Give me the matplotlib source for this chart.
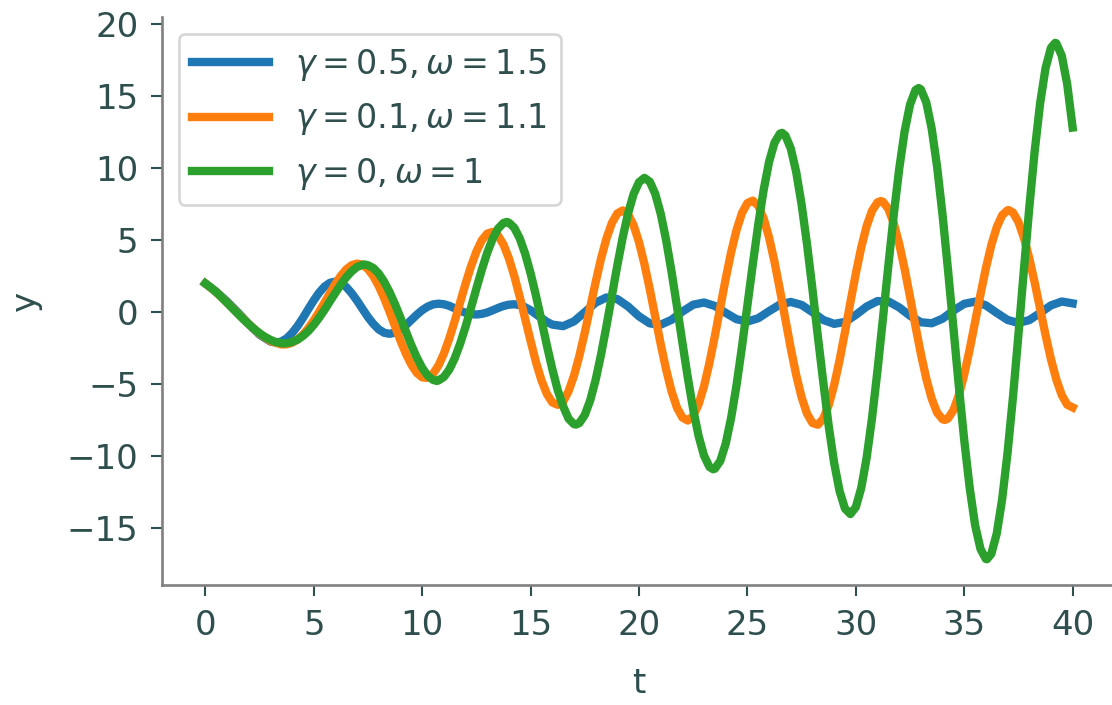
import matplotlib
matplotlib.use("Agg")
import matplotlib.pyplot as plt

# ---- data ----
labels = [r'$\gamma = 0.5, \omega = 1.5$', r'$\gamma = 0.1, \omega = 1.1$', r'$\gamma = 0, \omega = 1$']

t_blue = [0, 0.5, 1.0, 1.5, 2.0, 2.5, 3.0, 3.25, 3.5, 3.75, 4.0, 4.25, 4.5, 4.75, 5.0, 5.25, 5.5,
          5.75, 6.0, 6.25, 6.5, 6.75, 7.0, 7.25, 7.5, 7.75, 8.0, 8.25, 8.5, 8.75, 9.0, 9.25, 9.5,
          9.75, 10.0, 10.25, 10.5, 10.75, 11.0, 11.25, 11.5, 11.75, 12.0, 12.25, 12.5, 12.75,
          13.0, 13.25, 13.5, 13.75, 14.0, 14.25, 14.5, 14.75, 15.0, 15.25, 15.5, 15.75,
          16.0, 16.5, 17.0, 17.5, 18.0, 18.5, 19.0, 19.5, 20.0, 20.5, 21.0, 21.5, 22.0, 22.5, 23.0,
          23.5, 24.0, 24.5, 25.0, 25.5, 26.0, 26.5, 27.0, 27.5, 28.0, 28.5, 29.0, 29.5, 30.0, 30.5,
          31.0, 31.5, 32.0, 32.5, 33.0, 33.5, 34.0, 34.5, 35.0, 35.5, 36.0, 36.5, 37.0, 37.5, 38.0,
          38.5, 39.0, 39.5, 40.0]
y_blue = [2.00, 1.43, 0.75, -0.01, -0.81, -1.55, -2.03, -2.10, -2.03, -1.81, -1.44, -0.96, -0.39,
          0.23, 0.83, 1.37, 1.79, 2.05, 2.13, 2.03, 1.75, 1.32, 0.80, 0.23, -0.33, -0.81, -1.19,
          -1.42, -1.49, -1.41, -1.19, -0.89, -0.53, -0.17, 0.15, 0.39, 0.55, 0.60, 0.56, 0.45,
          0.28, 0.11, -0.03, -0.13, -0.15, -0.11, -0.01, 0.14, 0.30, 0.44, 0.53, 0.56, 0.50,
          0.35, 0.14, -0.13, -0.40, -0.66,
          -0.85, -0.96, -0.63, 0.01, 0.67, 1.03,
          0.92, 0.40, -0.28, -0.77, -0.86, -0.52, 0.05, 0.53, 0.68, 0.44, -0.04, -0.48, -0.64,
          -0.41, 0.08, 0.54, 0.72, 0.51, 0.01, -0.53, -0.80, -0.67, -0.18, 0.40, 0.78, 0.76,
          0.34, -0.24, -0.69, -0.76, -0.44, 0.12, 0.59, 0.74, 0.48, -0.04, -0.53, -0.74, -0.54,
          -0.04, 0.48, 0.75, 0.62]

t_orange = [0, 0.5, 1.0, 1.5, 2.0, 2.5, 3.0, 3.5, 3.75, 4.0, 4.25, 4.5, 4.75, 5.0, 5.25, 5.5,
            5.75, 6.0, 6.25, 6.5, 6.75, 7.0, 7.25, 7.5, 7.75, 8.0, 8.25, 8.5, 8.75, 9.0, 9.25,
            9.5, 9.75, 10.0, 10.2, 10.25, 10.5, 10.75, 11.0, 11.25, 11.5, 11.75, 12.0, 12.25,
            12.5, 12.75,
            13.0, 13.25, 13.5, 13.75, 14.0, 14.25, 14.5, 14.75, 15.0, 15.25, 15.5, 15.75, 16.0,
            16.25, 16.5, 16.75, 17.0, 17.25, 17.5, 17.75, 18.0, 18.25, 18.5, 18.75, 19.0, 19.25,
            19.5, 19.75, 20.0, 20.25, 20.5, 20.75, 21.0, 21.25, 21.5, 21.75, 22.0, 22.25, 22.5,
            22.75, 23.0, 23.25, 23.5, 23.75, 24.0, 24.25, 24.5, 24.75, 25.0, 25.25, 25.5, 25.75,
            26.0, 26.25, 26.5, 26.75, 27.0, 27.25, 27.5, 27.75, 28.0, 28.25, 28.5, 28.75, 29.0,
            29.25, 29.5, 29.75, 30.0, 30.25, 30.5, 30.75, 31.0, 31.15, 31.25, 31.5, 31.75, 32.0,
            32.25, 32.5, 32.75, 33.0, 33.25, 33.5, 33.75, 34.0, 34.1, 34.25, 34.5, 34.75, 35.0,
            35.25, 35.5, 35.75, 36.0, 36.25, 36.5, 36.75, 37.0, 37.05, 37.25, 37.5, 37.75, 38.0,
            38.25, 38.5, 38.75, 39.0, 39.25, 39.5, 39.75, 40.0]
y_orange = [2.00, 1.40, 0.68, -0.08, -0.82, -1.49, -1.99, -2.23, -2.22, -2.11, -1.88, -1.55,
            -1.10, -0.57, 0.04, 0.69, 1.35, 1.98, 2.53, 2.98, 3.27, 3.38, 3.30, 3.00, 2.50, 1.81,
            0.97, 0.02, -0.98, -1.97, -2.87, -3.63, -4.20, -4.51, -4.55, -4.53, -4.26, -3.70,
            -2.87, -1.82, -0.61, 0.69, 1.98, 3.18, 4.21, 5.00,
            5.46, 5.58, 5.32, 4.70, 3.74, 2.51, 1.07, -0.47, -1.98,
            -3.47, -4.71, -5.66, -6.25, -6.42, -6.21, -5.48, -4.41, -3.02, -1.40, 0.35, 2.09,
            3.73, 5.13, 6.20, 6.86, 7.07, 6.79, 6.04, 4.87, 3.35, 1.58, -0.31, -2.20, -3.96,
            -5.47, -6.61, -7.30, -7.51, -7.19, -6.38, -5.13, -3.50, -1.64, 0.36, 2.34, 4.17,
            5.72, 6.89, 7.58, 7.75, 7.39, 6.51, 5.18, 3.50, 1.56, -0.49, -2.50, -4.35, -5.90,
            -7.03, -7.68, -7.80, -7.38, -6.44, -5.06, -3.33, -1.37, 0.69, 2.69, 4.50, 5.99, 7.05,
            7.63, 7.72, 7.67, 7.18, 6.18, 4.76, 3.02, 1.07, -0.95, -2.88, -4.60, -5.99, -6.96,
            -7.42, -7.47, -7.37, -6.80, -5.76, -4.32, -2.59, -0.68, 1.24, 3.07, 4.66, 5.91, 6.74,
            7.08, 7.09, 6.92, 6.27, 5.18, 3.75, 2.06, 0.24, -1.57, -3.25, -4.67, -5.75, -6.41,
            -6.60]

t_green = [0, 0.25, 0.5, 0.75, 1.0, 1.25, 1.5, 1.75, 2.0, 2.25, 2.5, 2.75, 3.0, 3.25, 3.5, 3.62,
           3.75, 4.0, 4.25, 4.5, 4.75, 5.0, 5.25, 5.5, 5.75, 6.0, 6.25, 6.5, 6.75, 7.0, 7.25, 7.33,
           7.5, 7.75, 8.0, 8.25, 8.5, 8.75, 9.0, 9.25, 9.5, 9.75, 10.0, 10.25, 10.5, 10.68, 10.75,
           11.0, 11.25, 11.5, 11.75, 12.0, 12.25, 12.5, 12.75, 13.0, 13.25, 13.5, 13.75, 13.9,
           14.0, 14.25, 14.5, 14.75, 15.0, 15.25, 15.5, 15.75, 16.0, 16.25, 16.5, 16.75, 17.0,
           17.1, 17.25, 17.5, 17.75, 18.0, 18.25, 18.5, 18.75, 19.0, 19.25, 19.5, 19.75, 20.0,
           20.25, 20.5, 20.75, 21.0, 21.25, 21.5, 21.75, 22.0, 22.25, 22.5, 22.75, 23.0, 23.25,
           23.42, 23.5, 23.75, 24.0, 24.25, 24.5, 24.75, 25.0, 25.25, 25.5, 25.75, 26.0, 26.25,
           26.5, 26.6, 26.75, 27.0, 27.25, 27.5, 27.75, 28.0, 28.25, 28.5, 28.75, 29.0, 29.25,
           29.5, 29.75, 30.0, 30.25, 30.5, 30.75, 31.0, 31.25, 31.5, 31.75, 32.0, 32.25, 32.5,
           32.75, 32.9, 33.0, 33.25, 33.5, 33.75, 34.0, 34.25, 34.5, 34.75, 35.0, 35.25, 35.5,
           35.75, 36.0, 36.05, 36.25, 36.5, 36.75, 37.0, 37.25, 37.5, 37.75, 38.0, 38.25, 38.5,
           38.75, 39.0, 39.2, 39.25, 39.5, 39.75, 40.0]
y_green = [2.00, 1.72, 1.40, 1.04, 0.66, 0.28, -0.11, -0.48, -0.83, -1.16, -1.45, -1.71, -1.91,
           -2.06, -2.14, -2.16, -2.14, -2.06, -1.90, -1.64, -1.30, -0.87, -0.37, 0.18, 0.78, 1.36,
           1.93, 2.44, 2.85, 3.15, 3.30, 3.32, 3.27, 3.07, 2.68, 2.11, 1.39, 0.55, -0.38, -1.34,
           -2.28, -3.13, -3.85, -4.39, -4.69, -4.76, -4.73, -4.49, -3.97, -3.19, -2.18, -1.00,
           0.31, 1.65, 2.95, 4.13, 5.10, 5.81, 6.20, 6.27, 6.22, 5.86, 5.13, 4.06, 2.71, 1.14,
           -0.55, -2.29, -3.93, -5.39, -6.52, -7.38, -7.76, -7.79, -7.68, -7.12, -6.11, -4.69,
           -2.93, -0.95, 1.16, 3.25, 5.20, 6.89, 8.20, 9.03, 9.33, 9.06, 8.22, 6.85, 5.02, 2.83,
           0.42, -2.09, -4.52, -6.74, -8.59, -9.95, -10.73, -10.89, -10.85, -10.31, -9.11, -7.32,
           -5.04, -2.39, 0.46, 3.35, 6.09, 8.50, 10.45, 11.77, 12.40, 12.45, 12.27, 11.37, 9.74,
           7.48, 4.72, 1.60, -1.68, -4.85, -7.90, -10.45, -12.40, -13.62, -14.00, -13.52, -12.19,
           -10.09, -7.31, -4.03, -0.44, 3.23, 6.77, 9.94, 12.55, 14.41, 15.42, 15.56, 15.47,
           14.57, 12.74, 10.09, 6.77, 2.97, -1.06, -5.10, -8.87, -12.15, -14.76, -16.42, -17.12,
           -17.13, -16.76, -15.35, -12.96, -9.73, -5.85, -1.55, 2.91, 7.25, 11.19, 14.50, 16.94,
           18.36, 18.70, 18.66, 17.80, 15.82, 12.82]

xticks = [0, 5, 10, 15, 20, 25, 30, 35, 40]
yticks = [-15, -10, -5, 0, 5, 10, 15, 20]
colors = ['#1f77b4', '#ff7f0e', '#2ca02c']

TXT = '#2f4f4f'
FS = 24.5

fig = plt.figure(figsize=(11.12, 7.05), dpi=100)
ax = fig.add_axes([162 / 1112, 1 - 585 / 705, (1116 - 162) / 1112, (585 - 17) / 705])

series = [(t_blue, y_blue), (t_orange, y_orange), (t_green, y_green)]
for (tt, yy), lab, col in zip(series, labels, colors):
    ax.plot(tt, yy, color=col, lw=6.0, label=lab, solid_joinstyle='round')

ax.set_xticks(xticks)
ax.set_yticks(yticks)
ax.set_xticklabels([str(v) for v in xticks])
ax.set_yticklabels([('\u2212' + str(-v)) if v < 0 else str(v) for v in yticks])

for s in ['top', 'right']:
    ax.spines[s].set_visible(False)
for s in ['left', 'bottom']:
    ax.spines[s].set_color('#808080')
    ax.spines[s].set_linewidth(1.9)

ax.tick_params(axis='both', colors=TXT, labelcolor=TXT, labelsize=FS,
               length=8, width=1.5, pad=9, direction='out')

ax.set_xlabel('t', fontsize=FS, color=TXT, labelpad=18)
ax.set_ylabel('y', fontsize=FS, color=TXT, labelpad=18)

leg = ax.legend(loc='upper left', fontsize=24, frameon=True, fancybox=True,
                handlelength=2.3, labelcolor=TXT, borderaxespad=0.5, labelspacing=0.55)
leg.get_frame().set_edgecolor('#cccccc')
leg.get_frame().set_linewidth(1.9)

fig.savefig('out.png', dpi=100)
